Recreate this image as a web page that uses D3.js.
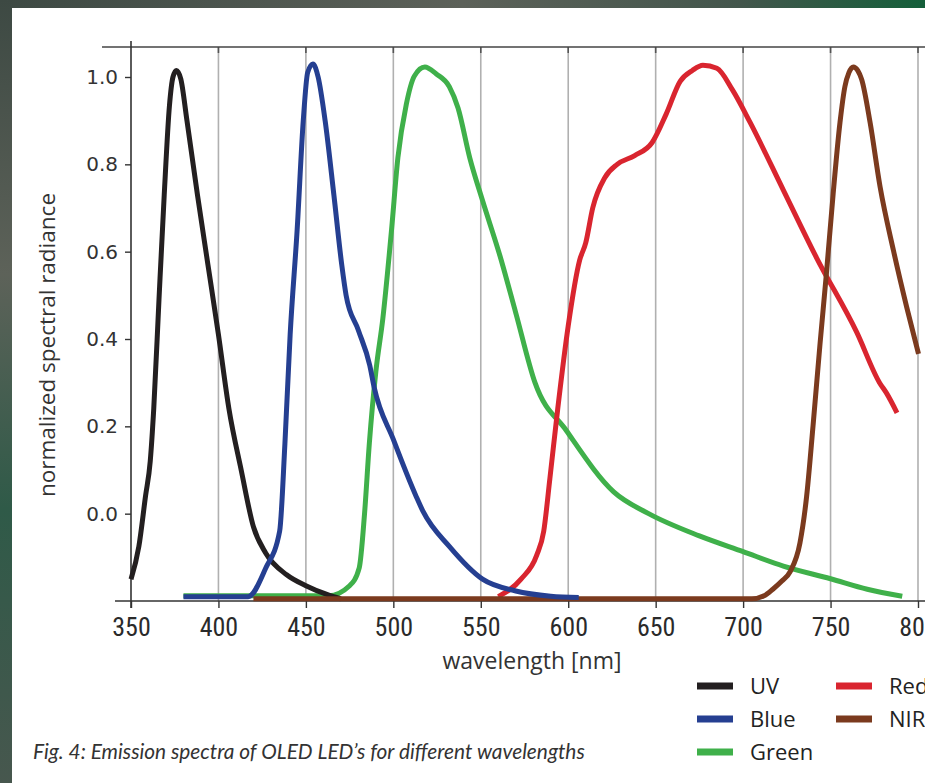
<!DOCTYPE html>
<html>
<head>
<meta charset="utf-8">
<script src="https://cdn.jsdelivr.net/npm/d3@7"></script>
<style>
  html, body { margin: 0; padding: 0; background: #fff; }
  svg { display: block; }
</style>
</head>
<body>
<svg id="chart" width="925" height="783"></svg>
<script>
// ---- data ----
const xTicks = [350, 400, 450, 500, 550, 600, 650, 700, 750, 800];
const yTicks = [0.0, 0.2, 0.4, 0.6, 0.8, 1.0];

const uvWl  = [350, 354.5, 358.3, 361, 363, 366, 369, 372, 374, 376, 378.5, 382, 388, 394, 400, 406, 413, 420, 427, 439, 450, 462, 470];
const uvVal = [-0.15, -0.075, 0.04, 0.12, 0.24, 0.49, 0.73, 0.935, 1.0, 1.015, 0.995, 0.9, 0.73, 0.57, 0.41, 0.24, 0.1, -0.03, -0.09, -0.14, -0.165, -0.185, -0.195];

const blueWl  = [380, 417, 427, 435, 438, 441, 445, 448.5, 451, 454, 457, 461, 466, 470.5, 473, 480, 486.5, 489, 500, 513, 517, 532, 551, 570, 590, 606];
const blueVal = [-0.19, -0.19, -0.125, -0.04, 0.16, 0.41, 0.65, 0.9, 1.01, 1.03, 1.0, 0.9, 0.73, 0.57, 0.5, 0.42, 0.34, 0.29, 0.17, 0.04, 0.005, -0.075, -0.15, -0.177, -0.189, -0.192];

const greenWl  = [380, 463, 475, 480.5, 483.5, 486.3, 490, 494, 499, 502.6, 507.4, 512, 518, 524.6, 532, 537, 543.7, 551, 561, 570, 581, 599, 626, 646, 675, 700, 723, 750, 771, 791];
const greenVal = [-0.188, -0.188, -0.165, -0.124, -0.002, 0.162, 0.325, 0.447, 0.651, 0.815, 0.937, 1.002, 1.023, 1.007, 0.978, 0.929, 0.815, 0.717, 0.59, 0.46, 0.3, 0.19, 0.05, 0.0, -0.051, -0.087, -0.12, -0.149, -0.173, -0.189];

const redWl  = [560, 573, 582, 586, 589.5, 594, 600, 606.5, 610, 614, 621, 628, 638, 648, 656, 664, 671, 677, 685, 694, 704, 723, 742, 765, 778, 782, 788];
const redVal = [-0.19, -0.15, -0.095, -0.04, 0.08, 0.24, 0.43, 0.58, 0.62, 0.7, 0.77, 0.8, 0.82, 0.85, 0.915, 0.99, 1.015, 1.027, 1.02, 0.97, 0.896, 0.741, 0.586, 0.415, 0.3, 0.276, 0.231];

const nirWl  = [420, 705, 712, 717, 722, 727, 732.5, 736.3, 740, 744, 747.7, 751.5, 755.4, 758.2, 760.5, 763, 765.5, 767.8, 772.6, 778.3, 786, 793.6, 800.3];
const nirVal = [-0.195, -0.195, -0.188, -0.173, -0.155, -0.132, -0.067, 0.039, 0.202, 0.39, 0.553, 0.733, 0.896, 0.978, 1.01, 1.023, 1.015, 0.994, 0.896, 0.749, 0.602, 0.472, 0.366];

const seriesNames  = ["UV", "Blue", "Green", "Red", "NIR"];
const seriesColors = ["#231f20", "#253f91", "#3fb04a", "#d9252f", "#7b3a1e"];

const series = [
  { name: "Green", wl: greenWl, val: greenVal, color: seriesColors[2] },
  { name: "Red",   wl: redWl,   val: redVal,   color: seriesColors[3] },
  { name: "UV",    wl: uvWl,    val: uvVal,    color: seriesColors[0] },
  { name: "NIR",   wl: nirWl,   val: nirVal,   color: seriesColors[4] },
  { name: "Blue",  wl: blueWl,  val: blueVal,  color: seriesColors[1] }
];

// ---- drawing ----
const svg = d3.select("#chart");

// frame background
const defs = svg.append("defs");
const gTop = defs.append("linearGradient").attr("id", "gTop").attr("x1", "0").attr("x2", "1").attr("y1", "0").attr("y2", "0");
gTop.append("stop").attr("offset", "0").attr("stop-color", "#3d4943");
gTop.append("stop").attr("offset", "0.5").attr("stop-color", "#5c6159");
gTop.append("stop").attr("offset", "0.8").attr("stop-color", "#43564c");
gTop.append("stop").attr("offset", "1").attr("stop-color", "#145f3a");
const gLeft = defs.append("linearGradient").attr("id", "gLeft").attr("x1", "0").attr("x2", "0").attr("y1", "0").attr("y2", "1");
gLeft.append("stop").attr("offset", "0").attr("stop-color", "#3d4943");
gLeft.append("stop").attr("offset", "0.35").attr("stop-color", "#5d6259");
gLeft.append("stop").attr("offset", "0.65").attr("stop-color", "#2f5a48");
gLeft.append("stop").attr("offset", "1").attr("stop-color", "#47574e");

svg.append("rect").attr("x", 0).attr("y", 0).attr("width", 925).attr("height", 8).attr("fill", "url(#gTop)");
svg.append("rect").attr("x", 0).attr("y", 0).attr("width", 12).attr("height", 783).attr("fill", "url(#gLeft)");

const x = d3.scaleLinear().domain([350, 800]).range([131, 918]);
const y = d3.scaleLinear().domain([-0.2, 1.0]).range([601, 77]);

const topY = 47;
const botY = y(-0.2);

// gridlines
svg.append("g").selectAll("line").data(xTicks.slice(1)).join("line")
  .attr("x1", d => x(d)).attr("x2", d => x(d))
  .attr("y1", topY).attr("y2", botY)
  .attr("stroke", "#b0b0b0").attr("stroke-width", 1.6);

// top ticks
svg.append("g").selectAll("line").data(xTicks.slice(1)).join("line")
  .attr("x1", d => x(d)).attr("x2", d => x(d))
  .attr("y1", topY).attr("y2", topY + 6)
  .attr("stroke", "#555").attr("stroke-width", 1.6);

// top line
svg.append("line").attr("x1", 102).attr("x2", 925).attr("y1", topY).attr("y2", topY)
  .attr("stroke", "#444").attr("stroke-width", 1.4);

// bottom axis
const xAxis = d3.axisBottom(x).tickValues(xTicks).tickSize(7).tickSizeOuter(0).tickFormat(d3.format("d"));
const gx = svg.append("g").attr("transform", `translate(0,${botY})`).call(xAxis);
gx.select(".domain").remove();
gx.selectAll(".tick line").attr("stroke", "#333").attr("stroke-width", 1.4);
gx.selectAll(".tick text")
  .attr("fill", "#2a2a2a").attr("dy", "0").attr("y", 35)
  .style("font-family", "'Liberation Sans Narrow', 'Roboto Condensed', 'DejaVu Sans Condensed', sans-serif")
  .style("font-weight", "normal")
  .style("font-size", "26px");
svg.append("line").attr("x1", 115).attr("x2", 925).attr("y1", botY).attr("y2", botY)
  .attr("stroke", "#333").attr("stroke-width", 1.6);

// left axis
const yAxis = d3.axisLeft(y).tickValues(yTicks).tickSize(6).tickSizeOuter(0).tickFormat(d3.format(".1f"));
const gy = svg.append("g").attr("transform", `translate(${x(350)},0)`).call(yAxis);
gy.select(".domain").remove();
gy.selectAll(".tick line").attr("stroke", "#333").attr("stroke-width", 1.4);
gy.selectAll(".tick text")
  .attr("fill", "#333").attr("x", -13)
  .style("font-family", "'DejaVu Sans', Verdana, sans-serif")
  .style("font-size", "20px");
svg.append("line").attr("x1", x(350)).attr("x2", x(350)).attr("y1", 41).attr("y2", botY + 7)
  .attr("stroke", "#333").attr("stroke-width", 1.6);

// curves
const line = d3.line().x(d => x(d[0])).y(d => y(d[1])).curve(d3.curveMonotoneX);
svg.append("g").selectAll("path").data(series).join("path")
  .attr("d", s => line(s.wl.map((w, i) => [w, s.val[i]])))
  .attr("fill", "none")
  .attr("stroke", s => s.color)
  .attr("stroke-width", 5)
  .attr("stroke-linejoin", "round")
  .attr("stroke-linecap", "butt");

// axis titles
svg.append("text").attr("x", 532).attr("y", 669).attr("text-anchor", "middle")
  .attr("fill", "#333")
  .style("font-family", "'Open Sans', sans-serif").style("font-size", "23px")
  .text("wavelength [nm]");
svg.append("text").attr("transform", "translate(55,345) rotate(-90)").attr("text-anchor", "middle")
  .attr("fill", "#333")
  .style("font-family", "'Open Sans', sans-serif").style("font-size", "22.5px")
  .text("normalized spectral radiance");

// legend
const legendItems = [
  { name: seriesNames[0], color: seriesColors[0], lx: 697, ly: 686 },
  { name: seriesNames[1], color: seriesColors[1], lx: 697, ly: 719 },
  { name: seriesNames[2], color: seriesColors[2], lx: 697, ly: 752 },
  { name: seriesNames[3], color: seriesColors[3], lx: 836, ly: 686 },
  { name: seriesNames[4], color: seriesColors[4], lx: 836, ly: 719 }
];
const lg = svg.append("g").selectAll("g").data(legendItems).join("g")
  .attr("transform", d => `translate(${d.lx},${d.ly})`);
lg.append("rect").attr("x", 0).attr("y", -3.5).attr("width", 36).attr("height", 7).attr("fill", d => d.color);
lg.append("text").attr("x", 53).attr("y", 0).attr("dy", "0.35em")
  .attr("fill", "#222")
  .style("font-family", "'Open Sans', sans-serif").style("font-size", "22px")
  .text(d => d.name);

// caption
svg.append("text").attr("x", 33).attr("y", 759)
  .attr("fill", "#333")
  .style("font-family", "Lato, sans-serif").style("font-style", "italic").style("font-size", "20.85px")
  .text("Fig. 4: Emission spectra of OLED LED\u2019s for different wavelengths");
</script>
</body>
</html>
